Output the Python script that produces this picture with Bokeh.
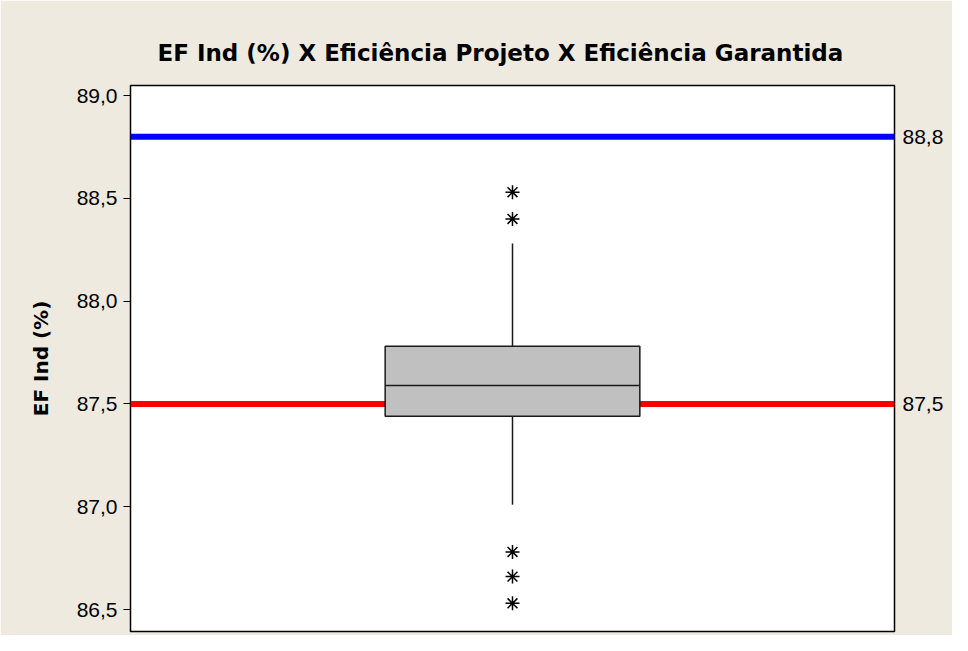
from bokeh.plotting import figure
from bokeh.models import LinearAxis, FixedTicker, CustomJSTickFormatter, Range1d
from bokeh.embed import file_html
from bokeh.resources import INLINE

# ---- data ----
title_text = "EF Ind (%) X Eficiência Projeto X Eficiência Garantida"
y_label = "EF Ind (%)"
q1 = [87.44]
median = [87.59]
q3 = [87.78]
whisker_low = [87.01]
whisker_high = [88.28]
outliers = [88.53, 88.40, 86.78, 86.66, 86.53]
eff_projeto = 88.8
eff_garantida = 87.5
y_ticks = [86.5, 87.0, 87.5, 88.0, 88.5, 89.0]
ref_ticks = [eff_projeto, eff_garantida]

BG = "#EEEAE0"
W, H = 952, 635

p = figure(width=W, height=H, output_backend="svg", toolbar_location=None,
           x_range=Range1d(0, 3), y_range=Range1d(86.393, 89.049),
           background_fill_color="white", border_fill_color=BG,
           min_border_left=130, min_border_top=85, min_border_right=58, min_border_bottom=4)

p.title.text = title_text
p.title.text_font = "DejaVu Sans"
p.title.text_font_style = "bold"
p.title.text_font_size = "23px"
p.title.align = "left"
p.title.offset = 27
p.title.standoff = 39
p.title.text_color = "black"

p.xaxis.visible = False
p.xgrid.visible = False
p.ygrid.visible = False
p.outline_line_color = "black"
p.outline_line_width = 1.5

fmt = CustomJSTickFormatter(code="return tick.toFixed(1).replace('.', ',');")

ax = p.yaxis[0]
ax.ticker = FixedTicker(ticks=y_ticks)
ax.formatter = fmt
ax.axis_label = y_label
ax.axis_label_text_font = "DejaVu Sans"
ax.axis_label_text_font_style = "bold"
ax.axis_label_text_font_size = "20px"
ax.axis_label_text_color = "black"
ax.axis_label_standoff = 21
ax.major_label_text_font = "Liberation Sans"
ax.major_label_text_font_size = "21px"
ax.major_label_text_color = "black"
ax.major_tick_out = 7
ax.major_tick_in = 0
ax.minor_tick_line_color = None
ax.major_tick_line_color = "black"
ax.axis_line_color = None
ax.major_label_standoff = 6

rax = LinearAxis(ticker=FixedTicker(ticks=ref_ticks), formatter=fmt)
rax.major_tick_line_color = None
rax.minor_tick_line_color = None
rax.axis_line_color = None
rax.major_label_text_font = "Liberation Sans"
rax.major_label_text_font_size = "21px"
rax.major_label_text_color = "black"
rax.major_label_standoff = 2
p.add_layout(rax, "right")

# reference lines
p.segment(x0=[0], x1=[3], y0=[eff_projeto], y1=[eff_projeto], line_color="#0000FF", line_width=6)
p.segment(x0=[0], x1=[3], y0=[eff_garantida], y1=[eff_garantida], line_color="#FF0000", line_width=6)

# whiskers
p.segment(x0=[1.5], x1=[1.5], y0=q3, y1=whisker_high, line_color="#1a1a1a", line_width=1.5)
p.segment(x0=[1.5], x1=[1.5], y0=whisker_low, y1=q1, line_color="#1a1a1a", line_width=1.5)

# box
p.quad(left=[1], right=[2], bottom=q1, top=q3, fill_color="#C0C0C0", line_color="#1a1a1a", line_width=1.5)
p.segment(x0=[1], x1=[2], y0=median, y1=median, line_color="#1a1a1a", line_width=1.5)

# outliers
p.scatter(x=[1.5] * len(outliers), y=outliers, marker="asterisk", size=14,
          line_color="black", line_width=1.5)

open("out.html", "w").write(file_html(p, INLINE))
